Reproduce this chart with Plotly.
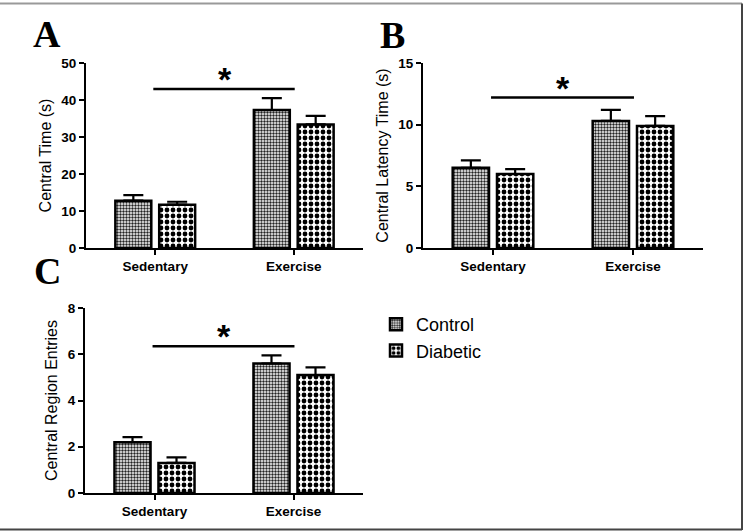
import plotly.graph_objects as go

W, H = 745, 531

groups = ["Sedentary", "Exercise"]
series = ["Control", "Diabetic"]

# Panel A: Central Time (s)
a_control = [12.8, 37.3]
a_control_err = [1.5, 3.2]
a_diabetic = [11.7, 33.4]
a_diabetic_err = [0.8, 2.3]

# Panel B: Central Latency Time (s)
b_control = [6.5, 10.3]
b_control_err = [0.6, 0.9]
b_diabetic = [6.0, 9.9]
b_diabetic_err = [0.4, 0.8]

# Panel C: Central Region Entries
c_control = [2.2, 5.6]
c_control_err = [0.22, 0.35]
c_diabetic = [1.3, 5.1]
c_diabetic_err = [0.24, 0.33]

y_titles = ["Central Time (s)", "Central Latency Time (s)", "Central Region Entries"]
y_ranges = [[0, 50], [0, 15], [0, 8]]
y_dticks = [10, 5, 2]
sig_y = [43, 12.2, 6.35]
panel_letters = ["A", "B", "C"]

def px_x(p):
    return p / W

def px_y(p):
    return 1 - p / H

# axis domains (pixel-based)
domains = [
    dict(x=[86, 363], y=[63, 248]),
    dict(x=[423, 703], y=[63, 248]),
    dict(x=[85, 363], y=[308, 493]),
]

patterns = {
    "Control": dict(shape=".", size=3, solidity=0.5, fgcolor="#222222", bgcolor="white", fillmode="replace"),
    "Diabetic": dict(shape=".", size=6, solidity=0.5, fgcolor="black", bgcolor="white", fillmode="replace"),
}

fig = go.Figure()

data = [
    (a_control, a_control_err, a_diabetic, a_diabetic_err),
    (b_control, b_control_err, b_diabetic, b_diabetic_err),
    (c_control, c_control_err, c_diabetic, c_diabetic_err),
]

for i, (cv, ce, dv, de) in enumerate(data):
    xa = "x" if i == 0 else f"x{i+1}"
    ya = "y" if i == 0 else f"y{i+1}"
    for name, vals, errs in [("Control", cv, ce), ("Diabetic", dv, de)]:
        fig.add_trace(go.Bar(
            x=groups, y=vals, name=name, xaxis=xa, yaxis=ya,
            showlegend=(i == 0),
            marker=dict(color="white", line=dict(color="black", width=2.5), pattern=patterns[name]),
            error_y=dict(type="data", array=errs, arrayminus=[0] * len(errs), symmetric=False,
                         color="black", thickness=2.2, width=10),
        ))

layout = dict(
    width=W, height=H, margin=dict(l=0, r=0, t=0, b=0, autoexpand=False),
    paper_bgcolor="white", plot_bgcolor="white",
    barmode="group", bargap=0.367, bargroupgap=0.18,
    font=dict(family="Liberation Sans, Arial", color="black"),
    legend=dict(x=px_x(376), y=px_y(306), xanchor="left", yanchor="top",
                font=dict(size=18, family="Liberation Sans, Arial"), bgcolor="rgba(0,0,0,0)",
                tracegroupgap=2, itemwidth=30),
    showlegend=True,
)

shapes = []
annotations = []
for i, d in enumerate(domains):
    sx = "" if i == 0 else str(i + 1)
    layout[f"xaxis{sx}"] = dict(
        domain=[px_x(d["x"][0]), px_x(d["x"][1])], anchor=f"y{sx}",
        range=[-0.5, 1.5], showline=True, linecolor="black", linewidth=2,
        ticks="outside", ticklen=5, tickwidth=2, tickcolor="black",
        tickfont=dict(size=13.5, weight="bold", family="Liberation Sans, Arial"),
        showgrid=False, zeroline=False, fixedrange=True, automargin=False,
    )
    layout[f"yaxis{sx}"] = dict(
        domain=[px_y(d["y"][1]), px_y(d["y"][0])], anchor=f"x{sx}",
        range=y_ranges[i], dtick=y_dticks[i], showline=True, linecolor="black", linewidth=2,
        ticks="outside", ticklen=5, tickwidth=2, tickcolor="black",
        tickfont=dict(size=13.5, weight="bold", family="Liberation Sans, Arial"),
        title=dict(text=y_titles[i], font=dict(size=16), standoff=6),
        showgrid=False, zeroline=False, fixedrange=True, automargin=False,
    )
    xref = "x" if i == 0 else f"x{i+1}"
    yref = "y" if i == 0 else f"y{i+1}"
    shapes.append(dict(type="line", xref=xref, yref=yref, x0=-0.014, x1=1.007,
                       y0=sig_y[i], y1=sig_y[i], line=dict(color="black", width=2.5)))
    annotations.append(dict(xref=xref, yref=yref, x=0.5, y=sig_y[i], text="*",
                            showarrow=False, yanchor="bottom", yshift=-11,
                            font=dict(size=34, weight="bold", family="Liberation Sans, Arial")))

# panel letters
letter_pos = [(47, 34), (393, 35), (47, 271)]
for letter, (lx, ly) in zip(panel_letters, letter_pos):
    annotations.append(dict(xref="paper", yref="paper", x=px_x(lx), y=px_y(ly), text=letter,
                            showarrow=False, xanchor="center", yanchor="middle",
                            font=dict(size=38, weight="bold", family="Liberation Serif, Times New Roman")))

# frame
shapes.append(dict(type="line", xref="paper", yref="paper", x0=0, x1=px_x(742), y0=px_y(3.5), y1=px_y(3.5),
                   line=dict(color="#999999", width=2)))
shapes.append(dict(type="line", xref="paper", yref="paper", x0=px_x(742), x1=px_x(742), y0=px_y(3.5), y1=px_y(530),
                   line=dict(color="#444444", width=2)))
shapes.append(dict(type="line", xref="paper", yref="paper", x0=0, x1=px_x(742), y0=px_y(529.5), y1=px_y(529.5),
                   line=dict(color="#444444", width=2)))

layout["shapes"] = shapes
layout["annotations"] = annotations
fig.update_layout(**layout)

fig.write_html("out.html")
